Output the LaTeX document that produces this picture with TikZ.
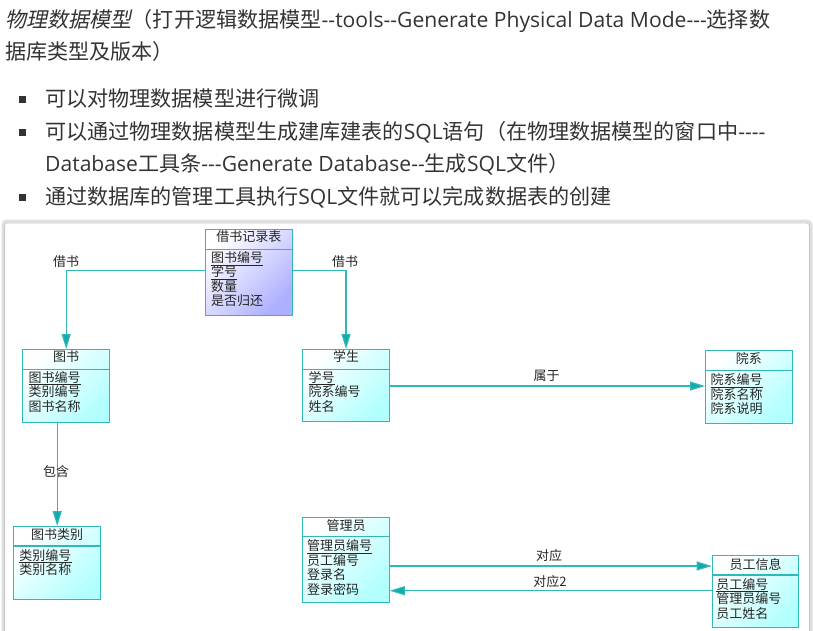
\documentclass[tikz,border=0pt]{standalone}
\usepackage{fontspec}
\setmainfont{Noto Sans CJK SC}
\newfontfamily\os{Open Sans}
\newfontfamily\cjksl[FakeSlant=0.2]{Noto Sans CJK SC}
\newfontfamily\cjk{Noto Sans CJK SC}
\usetikzlibrary{arrows.meta,calc}
\definecolor{txt}{HTML}{333333}
\definecolor{teal1}{HTML}{2FB8B8}
\definecolor{tealA}{HTML}{12AAAA}
\definecolor{cyf}{HTML}{B2FFFF}
\definecolor{lavf}{HTML}{AEB0FF}
\begin{document}
\begin{tikzpicture}[x=1pt,y=-1pt,
  para/.style={anchor=base west,inner sep=0,text=txt,font=\fontsize{21.1}{24}\selectfont},
  bul/.style={fill=txt,minimum size=7pt,inner sep=0},
  entity/.style={draw=teal1,line width=1.1pt,anchor=north west,inner sep=0},
  cyanbox/.style={top color=white,bottom color=cyf,shading angle=45},
  lavbox/.style={top color=white,bottom color=lavf,shading angle=45},
  divider/.style={draw=teal1,line width=1.1pt},
  etitle/.style={anchor=base,inner sep=0,font=\cjk\fontsize{13}{14}\selectfont,text=black!85},
  efield/.style={anchor=base west,inner sep=0,font=\cjk\fontsize{13}{14}\selectfont,text=black!85},
  lbl/.style={inner sep=0,font=\cjk\fontsize{13}{14}\selectfont,text=black!85},
  conn/.style={draw=teal1,line width=1.2pt,-{Triangle[length=15pt,width=9pt,fill=tealA]}}
]
\useasboundingbox (0,0) rectangle (813,630);
% ---- text ----
\node[para] (l1) at (5,27) {{\cjksl 物理数据模型}（打开逻辑数据模型{\os --tools--Generate Physical Data Mode---}选择数};
\node[para] (l2) at (5,59) {据库类型及版本）};
\node[bul] (b1) at (22,99) {};
\node[para] (t1) at (45,106) {可以对物理数据模型进行微调};
\node[bul] (b2) at (22,132) {};
\node[para] (t2) at (45,139) {可以通过物理数据模型生成建库建表的{\os SQL}语句（在物理数据模型的窗口中{\os ----}};
\node[para] (t3) at (45,171) {{\os Database}工具条{\os ---Generate Database--}生成{\os SQL}文件）};
\node[bul] (b3) at (22,197) {};
\node[para] (t4) at (45,204) {通过数据库的管理工具执行{\os SQL}文件就可以完成数据表的创建};
% ---- frame ----
\draw[gray!25,line width=3pt,rounded corners=4pt] (3,640) |- (811,221) -- (811,640);
\draw[gray!45,line width=0.6pt,rounded corners=3pt] (4.5,640) |- (809.5,223) -- (809.5,640);
% ---- entities ----
% 借书记录表
\node[entity,lavbox,minimum width=86.5pt,minimum height=85.5pt] (jl) at (205,229) {};
\draw[divider] ($(jl.north west)+(0,20.3)$) -- ($(jl.north east)+(0,20.3)$);
\node[etitle] (jlt) at ($(jl.north)+(0,12.9)$) {借书记录表};
\foreach \t [count=\i] in {\underline{图书编号},\underline{学号},数量,是否归还}
  \node[efield] (jlf\i) at ($(jl.north west)+(6,{33.5+14.4*(\i-1)})$) {\t};
% 图书
\node[entity,cyanbox,minimum width=86.7pt,minimum height=73pt] (ts) at (22.3,349) {};
\draw[divider] ($(ts.north west)+(0,20.3)$) -- ($(ts.north east)+(0,20.3)$);
\node[etitle] (tst) at ($(ts.north)+(0,12.9)$) {图书};
\foreach \t [count=\i] in {\underline{图书编号},类别编号,图书名称}
  \node[efield] (tsf\i) at ($(ts.north west)+(6,{33+14.6*(\i-1)})$) {\t};
% 学生
\node[entity,cyanbox,minimum width=86.4pt,minimum height=72pt] (xs) at (302.3,349) {};
\draw[divider] ($(xs.north west)+(0,20.3)$) -- ($(xs.north east)+(0,20.3)$);
\node[etitle] (xst) at ($(xs.north)+(0,12.9)$) {学生};
\foreach \t [count=\i] in {\underline{学号},院系编号,姓名}
  \node[efield] (xsf\i) at ($(xs.north west)+(6,{33+14.6*(\i-1)})$) {\t};
% 院系
\node[entity,cyanbox,minimum width=86.7pt,minimum height=73.3pt] (yx) at (705,350) {};
\draw[divider] ($(yx.north west)+(0,20.7)$) -- ($(yx.north east)+(0,20.7)$);
\node[etitle] (yxt) at ($(yx.north)+(0,13.8)$) {院系};
\foreach \t [count=\i] in {\underline{院系编号},院系名称,院系说明}
  \node[efield] (yxf\i) at ($(yx.north west)+(5.5,{34.5+14.6*(\i-1)})$) {\t};
% 图书类别
\node[entity,cyanbox,minimum width=86.7pt,minimum height=73.3pt] (lb) at (13.3,526) {};
\draw[divider] ($(lb.north west)+(0,20)$) -- ($(lb.north east)+(0,20)$);
\node[etitle] (lbt) at ($(lb.north)+(0,13.5)$) {图书类别};
\foreach \t [count=\i] in {\underline{类别编号},类别名称}
  \node[efield] (lbf\i) at ($(lb.north west)+(6,{34+14.4*(\i-1)})$) {\t};
% 管理员
\node[entity,cyanbox,minimum width=86.4pt,minimum height=85pt] (gl) at (302.3,516.7) {};
\draw[divider] ($(gl.north west)+(0,20)$) -- ($(gl.north east)+(0,20)$);
\node[etitle] (glt) at ($(gl.north)+(0,13.5)$) {管理员};
\foreach \t [count=\i] in {\underline{管理员编号},员工编号,登录名,登录密码}
  \node[efield] (glf\i) at ($(gl.north west)+(4.5,{34.2+14.4*(\i-1)})$) {\t};
% 员工信息
\node[entity,cyanbox,minimum width=86.6pt,minimum height=72.3pt] (yg) at (711.7,555) {};
\draw[divider] ($(yg.north west)+(0,20)$) -- ($(yg.north east)+(0,20)$);
\node[etitle] (ygt) at ($(yg.north)+(0,14)$) {员工信息};
\foreach \t [count=\i] in {\underline{员工编号},管理员编号,员工姓名}
  \node[efield] (ygf\i) at ($(yg.north west)+(4.5,{34+14.6*(\i-1)})$) {\t};
% ---- connectors ----
\coordinate (jlL) at ($(jl.north west)+(0,41.7)$);
\coordinate (jlR) at ($(jl.north east)+(0,41.7)$);
\draw[conn] (jlL) -| (ts.north);
\draw[conn] (jlR) -| (xs.north);
\coordinate (xsR) at ($(xs.north east)+(0,37)$);
\draw[conn] (xsR) -- (yx.west |- xsR);
\coordinate (tsB) at (lb.north |- ts.south);
\draw[conn] (tsB) -- (lb.north);
\coordinate (glR) at ($(gl.north east)+(0,49.3)$);
\draw[conn] (glR) -- (yg.west |- glR);
\coordinate (ygL) at ($(yg.north west)+(0,35.7)$);
\draw[conn] (ygL) -- (gl.east |- ygL);
% ---- labels ----
\node[lbl] (c1) at (66,262) {借书};
\node[lbl] (c2) at (345,262) {借书};
\node[lbl] (c3) at (546.7,376) {属于};
\node[lbl] (c4) at (56,471.7) {包含};
\node[lbl] (c5) at (549,556) {对应};
\node[lbl] (c6) at (550,581.7) {对应2};
\end{tikzpicture}
\end{document}
